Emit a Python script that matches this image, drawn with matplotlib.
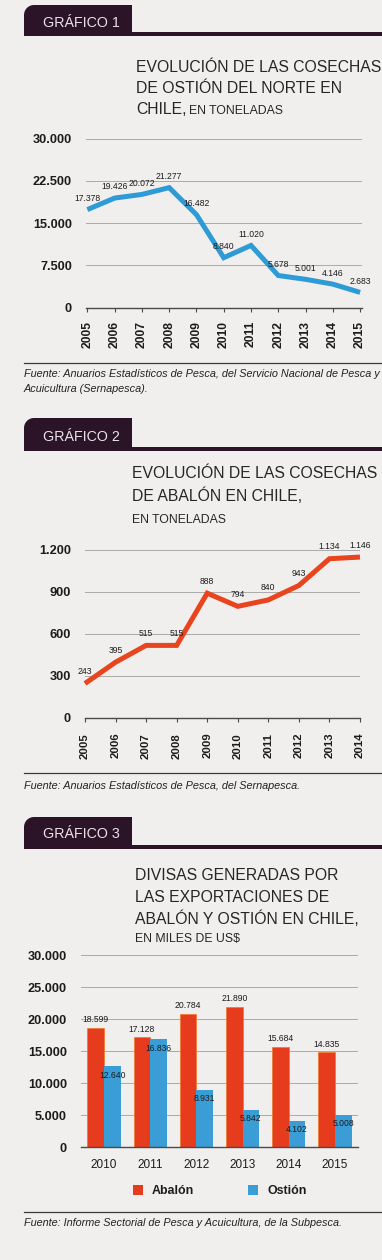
import matplotlib
matplotlib.use('Agg')
import matplotlib.pyplot as plt
from matplotlib.patches import Rectangle, Polygon
from matplotlib.lines import Line2D
import numpy as np

# ---------------- data ----------------
years_ostion = [2005, 2006, 2007, 2008, 2009, 2010, 2011, 2012, 2013, 2014, 2015]
cosecha_ostion = [17378, 19426, 20072, 21277, 16482, 8840, 11020, 5678, 5001, 4146, 2683]
ticks_c1 = [0, 7500, 15000, 22500, 30000]

years_abalon = [2005, 2006, 2007, 2008, 2009, 2010, 2011, 2012, 2013, 2014]
cosecha_abalon = [243, 395, 515, 515, 888, 794, 840, 943, 1134, 1146]
ticks_c2 = [0, 300, 600, 900, 1200]

years_divisas = ['2010', '2011', '2012', '2013', '2014', '2015']
divisas_abalon = [18599, 17128, 20784, 21890, 15684, 14835]
divisas_ostion = [12640, 16836, 8931, 5842, 4102, 5008]
ticks_c3 = [0, 5000, 10000, 15000, 20000, 25000, 30000]

titles = {
    1: ["EVOLUCIÓN DE LAS COSECHAS", "DE OSTIÓN DEL NORTE EN", "CHILE,"],
    2: ["EVOLUCIÓN DE LAS COSECHAS", "DE ABALÓN EN CHILE,"],
    3: ["DIVISAS GENERADAS POR", "LAS EXPORTACIONES DE", "ABALÓN Y OSTIÓN EN CHILE,"],
}

def fmt(v):
    return f"{v:,}".replace(",", ".")

# ---------------- style ----------------
W, H = 382, 1260
BG = '#f1efee'
PURPLE = '#2c1428'
BLUE = '#2e9ad6'
ORANGE = '#e8441d'
RED = '#e63b1c'
BLUE_BAR = '#3a9dd6'
DARK = '#1c1c1c'
GRID = '#aaaaaa'

SANS = ['Liberation Sans', 'DejaVu Sans']
TITLE_FS = 11.3
SUB_FS = 8.8
LABEL_FS = 6.2
SRC_FS = 7.8

fig = plt.figure(figsize=(W / 100, H / 100), dpi=100, facecolor=BG)


def fx(x):
    return x / W


def fy(y):
    return 1 - y / H


def text(x, y, s, **kw):
    kw.setdefault('va', 'baseline')
    kw.setdefault('ha', 'left')
    kw.setdefault('family', SANS)
    return fig.text(fx(x), fy(y), s, **kw)


def header(top, line_top, line_bot, label, base):
    left, right, r = 24, 132, 10
    cx, cy = left + r, top + r
    pts = [(left, line_bot)]
    for a in np.linspace(np.pi, np.pi / 2, 12):
        pts.append((cx + r * np.cos(a), cy - r * np.sin(a)))
    pts += [(right, top), (right, line_bot)]
    poly = Polygon([(fx(x), fy(y)) for x, y in pts], closed=True,
                   transform=fig.transFigure, facecolor=PURPLE, edgecolor='none')
    fig.add_artist(poly)
    fig.add_artist(Rectangle((fx(left), fy(line_bot)), fx(382 - left), (line_bot - line_top) / H,
                             transform=fig.transFigure, facecolor=PURPLE, edgecolor='none'))
    text(43, base, label, fontsize=10.3, color='#e8e2e8')


def separator(y):
    fig.add_artist(Line2D([fx(24), fx(382)], [fy(y), fy(y)], color='#3a3a3a', lw=0.9,
                          transform=fig.transFigure))


def source(lines, y0, step=15):
    for i, s in enumerate(lines):
        text(24, y0 + i * step, s, style='italic', fontsize=SRC_FS, color='#222222')


def make_axes(l, r, y0px, vpx, vmax, extra_top=10):
    t = vpx - extra_top
    ax = fig.add_axes([fx(l), fy(y0px), (r - l) / W, (y0px - t) / H])
    ax.set_facecolor('none')
    ax.set_ylim(0, vmax * (y0px - t) / (y0px - vpx))
    for s in ['top', 'right', 'left']:
        ax.spines[s].set_visible(False)
    ax.spines['bottom'].set_color('#4a4a4a')
    ax.spines['bottom'].set_linewidth(1.0)
    ax.set_axisbelow(True)
    ax.yaxis.grid(True, color=GRID, lw=0.7)
    ax.tick_params(axis='y', length=0, pad=10)
    return ax


def style_yticks(ax, ticks):
    ax.set_yticks(ticks)
    ax.set_yticklabels([fmt(t) for t in ticks], fontfamily=SANS, fontweight='bold',
                       fontsize=9.2, color=DARK)
    gl = ax.yaxis.get_gridlines()
    if gl:
        gl[0].set_visible(False)


# ================= GRÁFICO 1 =================
header(5, 32, 36, "GRÁFICO 1", 27)
text(136, 72, titles[1][0], fontsize=TITLE_FS, color='#262626')
text(136, 93, titles[1][1], fontsize=TITLE_FS, color='#262626')
text(136, 114, titles[1][2], fontsize=TITLE_FS, color='#262626')
text(189, 114, "EN TONELADAS", fontsize=SUB_FS, color='#262626')

ax1 = make_axes(86, 362, 307.5, 138.5, 30000)
ax1.set_xlim(2004.95, 2015.07)
ax1.plot(years_ostion, cosecha_ostion, color=BLUE, lw=3.6, solid_joinstyle='miter',
         solid_capstyle='butt', clip_on=False)
for xv, yv in zip(years_ostion, cosecha_ostion):
    ax1.annotate(fmt(yv), (xv, yv), xytext=(0, 8), textcoords='offset points',
                 ha='center', va='center', fontsize=LABEL_FS, family=SANS, color=DARK)
style_yticks(ax1, ticks_c1)
ax1.set_xticks(years_ostion)
ax1.set_xticklabels([str(y) for y in years_ostion], rotation=90, fontfamily=SANS,
                    fontweight='bold', fontsize=8.7, color=DARK)
ax1.tick_params(axis='x', length=3, width=0.8, color='#4a4a4a', pad=6.5)

separator(362.5)
source(["Fuente: Anuarios Estadísticos de Pesca, del Servicio Nacional de Pesca y",
        "Acuicultura (Sernapesca)."], 377)

# ================= GRÁFICO 2 =================
header(418, 447, 451, "GRÁFICO 2", 441)
text(132, 478, titles[2][0], fontsize=TITLE_FS, color='#262626')
text(132, 501, titles[2][1], fontsize=TITLE_FS, color='#262626')
text(132, 523, "EN TONELADAS", fontsize=SUB_FS, color='#262626')

ax2 = make_axes(85, 360, 717.5, 549.5, 1200)
ax2.set_xlim(2005, 2014)
ax2.plot(years_abalon, cosecha_abalon, color=ORANGE, lw=3.6, solid_joinstyle='miter',
         solid_capstyle='butt', clip_on=False)
for xv, yv in zip(years_abalon, cosecha_abalon):
    ax2.annotate(fmt(yv), (xv, yv), xytext=(0, 8.6), textcoords='offset points',
                 ha='center', va='center', fontsize=LABEL_FS, family=SANS, color=DARK)
style_yticks(ax2, ticks_c2)
ax2.set_xticks(years_abalon)
ax2.set_xticklabels([str(y) for y in years_abalon], rotation=90, fontfamily=SANS,
                    fontweight='bold', fontsize=8.2, color=DARK)
ax2.tick_params(axis='x', length=3, width=0.8, color='#4a4a4a', pad=8.0)

separator(772.5)
source(["Fuente: Anuarios Estadísticos de Pesca, del Sernapesca."], 789)

# ================= GRÁFICO 3 =================
header(817, 845, 849, "GRÁFICO 3", 838)
text(135, 880, titles[3][0], fontsize=TITLE_FS, color='#262626')
text(135, 902, titles[3][1], fontsize=TITLE_FS, color='#262626')
text(135, 924, titles[3][2], fontsize=TITLE_FS, color='#262626')
text(135, 942, "EN MILES DE US$", fontsize=SUB_FS, color='#262626')

ax3 = make_axes(81, 358, 1147, 955, 30000)
ax3.set_xlim(-0.5, 5.5)
x = np.arange(len(years_divisas))
bw = 0.36
ax3.bar(x - bw / 2, divisas_abalon, width=bw, color=RED, edgecolor='#ef7a24', lw=0.5)
ax3.bar(x + bw / 2, divisas_ostion, width=bw, color=BLUE_BAR, edgecolor='none')
for xi, v in zip(x, divisas_abalon):
    ax3.annotate(fmt(v), (xi - bw / 2, v), xytext=(0, 5.8), textcoords='offset points',
                 ha='center', va='center', fontsize=LABEL_FS, family=SANS, color=DARK)
for xi, v in zip(x, divisas_ostion):
    ax3.annotate(fmt(v), (xi + bw / 2, v), xytext=(0, -6.5), textcoords='offset points',
                 ha='center', va='center', fontsize=LABEL_FS, family=SANS, color=DARK)
style_yticks(ax3, ticks_c3)
ax3.set_xticks(x)
ax3.set_xticklabels(years_divisas, fontfamily=SANS, fontsize=8.5, color=DARK)
ax3.tick_params(axis='x', length=0, pad=9)

# legend
fig.add_artist(Rectangle((fx(133), fy(1195)), 10 / W, 10 / H, transform=fig.transFigure,
                         facecolor=RED, edgecolor='none'))
text(152, 1194, "Abalón", fontweight='bold', fontsize=8.9, color=DARK)
fig.add_artist(Rectangle((fx(248), fy(1195)), 10 / W, 10 / H, transform=fig.transFigure,
                         facecolor=BLUE_BAR, edgecolor='none'))
text(267, 1194, "Ostión", fontweight='bold', fontsize=8.9, color=DARK)

separator(1211.5)
source(["Fuente: Informe Sectorial de Pesca y Acuicultura, de la Subpesca."], 1226)

fig.savefig('out.png', dpi=100, facecolor=BG)
